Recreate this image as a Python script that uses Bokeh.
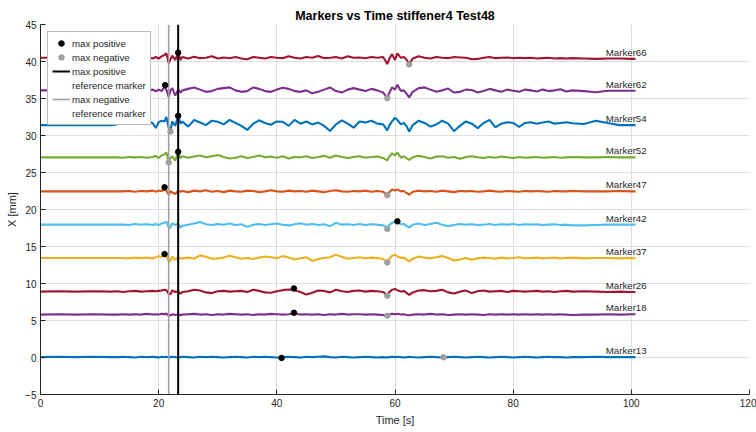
from bokeh.plotting import figure
from bokeh.models import Legend, LegendItem, ColumnDataSource
from bokeh.core.properties import value
from bokeh.embed import file_html
from bokeh.resources import INLINE

# ---------------- data ----------------
time_s = [0, 3, 6, 9, 12,
          13, 14, 15, 16, 17, 18, 19,
          19.5, 20, 20.5, 21, 21.3, 21.7, 22, 22.3, 22.8, 23.3, 23.7,
          24, 25, 26, 27, 28, 29, 30, 31, 32, 33,
          34, 35, 36, 37, 38, 39, 40, 41, 42, 43,
          44, 45, 46, 47, 48, 49, 50, 51, 52, 53,
          54, 55, 56, 57, 58,
          58.7, 59, 59.5, 60, 60.4, 61, 61.5, 62, 62.4,
          63, 64, 65, 66, 67, 68, 69, 70, 71, 72,
          73, 74, 75, 76, 77, 78, 79, 80, 81, 82,
          83, 84, 85, 86, 87, 88, 89, 90,
          92, 94, 96, 98, 100, 100.7]

m66 = [40.5, 40.5, 40.5, 40.5, 40.5,
       40.5, 40.5, 40.55, 40.5, 40.5, 40.6, 40.4,
       40.6, 40.4, 40.7, 40.9, 41.1, 39.8, 40.3, 40.8, 40.2, 41.2, 40.2,
       40.6, 40.4, 40.65, 40.45, 40.5, 40.7, 40.4, 40.55, 40.45, 40.6,
       40.4, 40.3, 40.6, 40.5, 40.4, 40.6, 40.5, 40.45, 40.7, 40.5,
       40.4, 40.6, 40.5, 40.75, 40.45, 40.5, 40.6, 40.4, 40.7, 40.5,
       40.55, 40.45, 40.6, 40.5, 40.6,
       39.65, 40.3, 41.0, 40.2, 41.1, 40.5, 40.6, 40.2, 39.7,
       40.4, 40.7, 40.5, 40.4, 40.6, 40.5, 40.45, 40.6, 40.55, 40.5,
       40.3, 40.35, 40.5, 40.6, 40.45, 40.5, 40.55, 40.45, 40.5, 40.45,
       40.5, 40.4, 40.45, 40.5, 40.4, 40.45, 40.4, 40.45,
       40.4, 40.35, 40.4, 40.4, 40.35, 40.35]

m62 = [36.1, 36.1, 36.1, 36.1, 36.1,
       36.1, 36.1, 36.05, 36.1, 36.1, 36.0, 36.2,
       35.95, 36.2, 36.0, 36.6, 36.2, 35.2, 36.1, 36.4, 35.4, 36.2, 35.8,
       36.1, 36.3, 36.5, 36.2, 35.9, 36.0, 36.3, 36.4, 36.5, 36.1,
       35.9, 36.0, 36.5, 36.3, 36.0, 35.9, 36.2, 36.45, 36.3, 36.0,
       35.9, 36.1, 35.7, 35.9, 36.2, 36.5, 36.0, 35.8, 36.2, 36.4,
       36.2, 36.0, 36.3, 36.1, 35.8,
       35.1, 35.7, 36.5, 36.2, 36.85, 36.0, 36.1, 35.6, 35.15,
       35.9, 36.4, 36.5, 36.2, 35.9, 36.1, 36.35, 35.8, 35.9, 36.2,
       36.15, 35.8, 36.0, 36.3, 36.1, 35.9, 36.2, 36.05, 35.9, 36.2,
       36.1, 35.95, 36.2, 36.0, 36.1, 36.25, 35.95, 36.1,
       36.0, 35.85, 36.05, 36.05, 36.05, 36.05]

m54 = [31.4, 31.4, 31.4, 31.4, 31.4,
       31.5, 31.85, 31.7, 31.95, 31.8, 31.9, 31.7,
       31.0, 31.8, 32.0, 31.9, 32.5, 31.0, 30.6, 31.9, 31.3, 32.66, 31.6,
       31.9, 31.2, 32.1, 31.75, 31.4, 32.0, 31.85, 31.5, 32.1, 31.7,
       31.3, 30.75, 31.6, 32.05, 31.7, 31.45, 31.9, 31.85, 31.3, 32.1,
       31.6, 31.9, 31.5, 31.75, 31.3, 30.6, 31.5, 32.05, 31.6, 31.05,
       31.9, 31.75, 32.0, 31.6, 31.5,
       30.7, 31.3, 31.9, 32.4, 32.1, 31.5, 31.7, 31.2, 30.55,
       31.4, 32.0, 31.7, 31.2, 31.5, 32.0, 31.6, 30.6, 31.3, 31.9,
       31.6, 31.0, 31.7, 32.1, 31.1, 31.6, 31.8, 31.7, 31.15, 31.7,
       31.8, 31.6, 31.75, 31.9, 31.6, 31.7, 31.8, 31.65,
       31.55, 32.0, 31.7, 31.4, 31.4, 31.4]

m52 = [27.05, 27.05, 27.05, 27.05, 27.05,
       27.05, 27.0, 27.1, 27.05, 27.1, 27.0, 27.1,
       27.25, 26.95, 27.3, 27.45, 27.7, 26.45, 27.0, 27.2, 26.6, 27.8, 26.9,
       27.2, 27.0, 27.15, 27.3, 27.05, 27.2, 27.35, 27.1, 26.9, 27.0,
       27.2, 26.95, 27.1, 27.3, 27.05, 27.15, 27.0, 27.2, 26.9, 27.1,
       27.05, 27.2, 26.95, 27.1, 27.25, 27.0, 27.3, 27.1, 26.95, 27.1,
       27.2, 27.0, 27.1, 27.15, 26.95,
       26.65, 27.1, 27.6, 27.3, 27.7, 27.0, 27.2, 26.9, 26.7,
       27.05, 27.25, 27.1, 26.9, 27.15, 27.2, 27.0, 27.1, 26.85, 27.1,
       27.2, 27.05, 26.95, 27.1, 27.0, 27.15, 27.05, 26.95, 27.1, 27.0,
       27.05, 27.1, 27.0, 27.05, 27.1, 27.0, 27.05, 27.1,
       27.05, 27.05, 27.1, 27.05, 27.05, 27.05]

m47 = [22.45, 22.45, 22.45, 22.45, 22.45,
       22.45, 22.45, 22.5, 22.4, 22.5, 22.45, 22.55,
       22.4, 22.55, 22.5, 22.75, 22.6, 22.0, 22.5, 22.3, 22.1, 22.55, 22.4,
       22.5, 22.35, 22.55, 22.45, 22.6, 22.4, 22.5, 22.35, 22.55, 22.45,
       22.4, 22.55, 22.5, 22.35, 22.45, 22.6, 22.45, 22.4, 22.55, 22.45,
       22.5, 22.4, 22.55, 22.45, 22.35, 22.5, 22.6, 22.45, 22.4, 22.5,
       22.45, 22.55, 22.4, 22.5, 22.4,
       21.95, 22.3, 22.7, 22.55, 22.7, 22.45, 22.5, 22.2, 22.0,
       22.4, 22.55, 22.45, 22.5, 22.4, 22.55, 22.45, 22.35, 22.5, 22.45,
       22.5, 22.4, 22.45, 22.55, 22.45, 22.4, 22.5, 22.45, 22.4, 22.5,
       22.45, 22.5, 22.45, 22.4, 22.5, 22.45, 22.45, 22.5,
       22.45, 22.45, 22.45, 22.5, 22.45, 22.45]

m42 = [17.95, 17.95, 17.95, 17.95, 17.95,
       17.95, 17.95, 17.9, 18.05, 17.95, 18.0, 17.9,
       18.05, 17.9, 18.1, 18.2, 18.35, 17.55, 17.6, 18.15, 17.9, 18.1, 17.55,
       17.8, 17.95, 18.1, 18.3, 18.0, 17.9, 18.05, 17.95, 18.1, 17.9,
       18.0, 17.65, 17.95, 18.05, 17.9, 18.0, 18.1, 17.95, 17.85, 18.0,
       18.15, 17.95, 18.05, 17.9, 18.0, 17.75, 18.2, 17.95, 18.0, 17.9,
       18.05, 17.9, 18.0, 17.95, 17.85,
       17.55, 17.85, 18.2, 18.3, 18.35, 18.0, 18.05, 17.75, 17.55,
       17.95, 18.1, 17.9, 18.05, 18.2, 17.95, 17.75, 17.9, 18.05, 17.95,
       18.0, 17.9, 17.95, 18.05, 17.9, 18.0, 17.95, 18.05, 17.9, 18.0,
       17.95, 18.0, 17.9, 17.95, 18.0, 17.9, 17.95, 17.85,
       17.85, 17.9, 17.95, 17.95, 17.95, 17.95]

m37 = [13.45, 13.45, 13.45, 13.45, 13.45,
       13.45, 13.45, 13.4, 13.5, 13.45, 13.5, 13.4,
       13.55, 13.7, 13.6, 13.9, 13.75, 13.0, 13.05, 13.65, 13.2, 13.55, 13.35,
       13.4, 13.5, 13.35, 13.8, 13.6, 13.35, 13.4, 13.5, 13.75, 13.55,
       13.35, 13.45, 13.3, 13.5, 13.65, 13.55, 13.4, 13.7, 13.5, 13.25,
       13.4, 13.55, 13.05, 13.3, 13.45, 13.55, 13.9, 13.6, 13.35, 13.45,
       13.55, 13.4, 13.5, 13.45, 13.3,
       12.9, 13.3, 13.75, 13.9, 13.65, 13.45, 13.5, 13.2, 13.0,
       13.35, 13.65, 13.5, 13.4, 13.55, 13.7, 13.45, 13.1, 13.25, 13.45,
       13.2, 13.4, 13.5, 13.45, 13.35, 13.5, 13.4, 13.45, 13.55, 13.4,
       13.45, 13.5, 13.4, 13.45, 13.5, 13.4, 13.45, 13.5,
       13.4, 13.45, 13.45, 13.4, 13.45, 13.4]

m26 = [8.9, 8.95, 8.9, 8.95, 8.9,
       8.95, 8.85, 8.95, 9.0, 8.9, 8.95, 9.0,
       8.95, 9.0, 9.05, 9.15, 9.1, 8.6, 8.55, 9.05, 8.85, 8.95, 8.6,
       8.85, 8.95, 9.15, 9.05, 8.8, 8.7, 8.95, 9.0, 8.9, 8.95,
       9.0, 8.85, 9.15, 9.0, 8.8, 8.75, 8.95, 9.1, 9.2, 9.1,
       8.85, 8.5, 8.75, 9.05, 9.0, 8.8, 9.15, 8.95, 8.85, 9.0,
       9.05, 8.9, 9.0, 8.95, 8.85,
       8.4, 8.8, 9.15, 9.25, 9.1, 8.9, 9.0, 8.7, 8.45,
       8.8, 9.05, 9.1, 8.95, 9.0, 9.15, 8.8, 8.65, 8.9, 9.05,
       8.7, 8.95, 9.05, 8.9, 8.95, 9.0, 8.85, 9.0, 8.95, 8.9,
       8.95, 9.0, 8.9, 8.95, 8.85, 8.95, 9.0, 8.9,
       8.95, 8.9, 8.85, 8.9, 8.85, 8.85]

m18 = [5.8, 5.85, 5.8, 5.85, 5.8,
       5.8, 5.85, 5.8, 5.85, 5.8, 5.9, 5.8,
       5.85, 5.8, 5.9, 5.85, 5.95, 5.65, 5.7, 5.85, 5.75, 5.85, 5.7,
       5.8, 5.85, 5.9, 5.8, 5.85, 5.75, 5.85, 5.8, 5.9, 5.85,
       5.8, 5.85, 5.75, 5.85, 5.8, 5.9, 5.85, 5.8, 5.85, 5.95,
       5.8, 5.85, 5.8, 5.85, 5.75, 5.85, 5.8, 5.9, 5.8, 5.85,
       5.85, 5.8, 5.85, 5.8, 5.75,
       5.7, 5.8, 5.9, 5.85, 5.9, 5.8, 5.85, 5.75, 5.7,
       5.8, 5.85, 5.8, 5.9, 5.8, 5.85, 5.75, 5.8, 5.85, 5.8,
       5.85, 5.8, 5.75, 5.85, 5.8, 5.85, 5.8, 5.85, 5.8, 5.85,
       5.8, 5.85, 5.8, 5.85, 5.8, 5.85, 5.8, 5.75,
       5.8, 5.8, 5.85, 5.8, 5.85, 5.85]

m13 = [0.05, 0.1, 0.05, 0.1, 0.05,
       0.05, 0.1, 0.05, 0.0, 0.1, 0.05, 0.1,
       0.05, 0.0, 0.1, 0.05, 0.1, 0.0, 0.05, 0.1, 0.05, 0.0, 0.05,
       0.1, 0.05, 0.0, 0.1, 0.05, 0.1, 0.05, 0.0, 0.05, 0.1,
       0.05, 0.0, 0.1, 0.05, 0.1, 0.05, 0.0, 0.05, 0.1, 0.05,
       0.0, 0.1, 0.05, 0.1, 0.15, 0.05, 0.0, 0.1, 0.05, 0.0,
       0.05, 0.1, 0.05, 0.0, 0.05,
       0.0, 0.05, 0.1, 0.05, 0.1, 0.05, 0.0, 0.05, 0.1,
       0.05, 0.0, 0.05, 0.1, 0.05, 0.0, 0.05, 0.1, 0.05, 0.0,
       0.05, 0.1, 0.05, 0.0, 0.05, 0.1, 0.05, 0.0, 0.05, 0.1,
       0.05, 0.0, 0.05, 0.1, 0.05, 0.05, 0.0, 0.05,
       0.05, 0.1, 0.05, 0.05, 0.05, 0.05]

marker_names = ["Marker13", "Marker18", "Marker26", "Marker37", "Marker42",
                "Marker47", "Marker52", "Marker54", "Marker62", "Marker66"]

# max positive / max negative points per marker (same order as marker_names)
max_pos_t = [40.8, 42.9, 42.9, 21.0, 60.4, 21.0, 23.3, 23.3, 21.1, 23.3]
max_pos_y = [-0.06, 6.05, 9.33, 13.97, 18.4, 23.0, 27.8, 32.66, 36.8, 41.2]
max_neg_t = [68.2, 58.7, 58.7, 58.7, 58.7, 58.7, 21.7, 22.0, 58.7, 62.4]
max_neg_y = [0.03, 5.64, 8.34, 12.85, 17.35, 21.94, 26.36, 30.55, 35.05, 39.6]

ref_pos_time = 23.3
ref_neg_time = 21.7

x_ticks = [0, 20, 40, 60, 80, 100, 120]
y_ticks = [-5, 0, 5, 10, 15, 20, 25, 30, 35, 40, 45]

# ---------------- styling ----------------
traces = [m13, m18, m26, m37, m42, m47, m52, m54, m62, m66]
colors = ["#0072BD", "#7E2F8E", "#A2142F", "#EDB120", "#4DBEEE",
          "#D95319", "#77AC30", "#0072BD", "#7E2F8E", "#A2142F"]

FONT = "Liberation Sans"
TXT = "#262626"

p = figure(width=756, height=432, x_range=(x_ticks[0], x_ticks[-1]),
           y_range=(y_ticks[0], y_ticks[-1]),
           output_backend="svg", toolbar_location=None,
           min_border_left=40, min_border_right=7,
           min_border_top=24, min_border_bottom=38,
           background_fill_color="white", border_fill_color="white")

p.title.text = "Markers vs Time stiffener4 Test48"
p.title.text_font = FONT
p.title.text_font_size = "12.5px"
p.title.text_font_style = "bold"
p.title.text_color = "black"
p.title.align = "center"
p.title.standoff = 4

p.outline_line_color = None
p.xaxis.ticker = x_ticks
p.yaxis.ticker = y_ticks
for ax in (p.xaxis, p.yaxis):
    ax.axis_line_color = TXT
    ax.major_tick_line_color = TXT
    ax.major_tick_in = 5
    ax.major_tick_out = 0
    ax.minor_tick_line_color = None
    ax.major_label_text_font = FONT
    ax.major_label_text_font_size = "10px"
    ax.major_label_text_color = TXT
    ax.axis_label_text_font = FONT
    ax.axis_label_text_font_size = "11px"
    ax.axis_label_text_font_style = "normal"
    ax.axis_label_text_color = TXT
    ax.major_label_standoff = 4
    ax.axis_label_standoff = 4
p.xaxis.axis_label = "Time [s]"
p.yaxis.axis_label = "X [mm]"
p.xgrid.grid_line_color = "#DEDEDE"
p.ygrid.grid_line_color = "#DEDEDE"

for tr, c in zip(traces, colors):
    p.line(time_s, tr, line_color=c, line_width=2.1)

label_src = ColumnDataSource(dict(
    x=[0.95 * time_s[-1]] * len(traces),
    y=[tr[-1] + 0.9 for tr in traces],
    text=marker_names))
p.text(x="x", y="y", text="text", source=label_src,
       text_font=value(FONT), text_font_size="9.7px", text_color=TXT,
       text_align="left", text_baseline="middle")

neg_line = p.line([ref_neg_time, ref_neg_time], [y_ticks[0], y_ticks[-1]],
                  line_color="#A0A0A0", line_width=1.6)
pos_line = p.line([ref_pos_time, ref_pos_time], [y_ticks[0], y_ticks[-1]],
                  line_color="black", line_width=2)

pos_pts = p.scatter(max_pos_t, max_pos_y, size=5.5, fill_color="black",
                    line_color="black")
neg_pts = p.scatter(max_neg_t, max_neg_y, size=5.5, fill_color="#A0A0A0",
                    line_color="#A0A0A0")

# invisible stand-in so the second text line of a legend entry has no glyph
blank = p.line(x=[], y=[], line_alpha=0)

legend = Legend(items=[
    LegendItem(label="max positive", renderers=[pos_pts]),
    LegendItem(label="max negative", renderers=[neg_pts]),
    LegendItem(label="max positive", renderers=[pos_line]),
    LegendItem(label="reference marker", renderers=[blank]),
    LegendItem(label="max negative", renderers=[neg_line]),
    LegendItem(label="reference marker", renderers=[blank]),
], location="top_left", margin=7)
legend.border_line_color = "#7A7A7A"
legend.border_line_width = 1
legend.background_fill_color = "white"
legend.background_fill_alpha = 1
legend.label_text_font = FONT
legend.label_text_font_size = "9.7px"
legend.label_text_color = TXT
legend.padding = 4
legend.spacing = 0
legend.glyph_width = 18
legend.glyph_height = 14
legend.label_height = 14
legend.label_standoff = 2
p.add_layout(legend)

open("out.html", "w").write(file_html(p, INLINE))
